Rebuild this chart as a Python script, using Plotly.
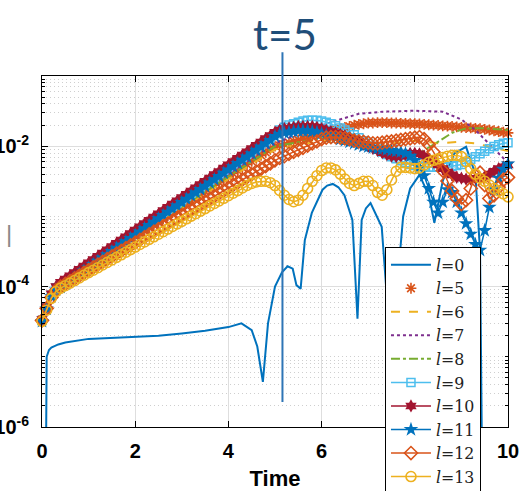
import plotly.graph_objects as go

# ---------------- data ----------------
T = [0.0, 0.1, 0.2, 0.3, 0.4, 0.5, 0.6, 0.7, 0.8, 0.9,
     1.0, 1.1, 1.2, 1.3, 1.4, 1.5, 1.6, 1.7, 1.8, 1.9,
     2.0, 2.1, 2.2, 2.3, 2.4, 2.5, 2.6, 2.7, 2.8, 2.9,
     3.0, 3.1, 3.2, 3.3, 3.4, 3.5, 3.6, 3.7, 3.8, 3.9,
     4.0, 4.1, 4.2, 4.3, 4.4, 4.5, 4.6, 4.7, 4.8, 4.9,
     5.0, 5.1, 5.2, 5.3, 5.4, 5.5, 5.6, 5.7, 5.8, 5.9,
     6.0, 6.1, 6.2, 6.3, 6.4, 6.5, 6.6, 6.7, 6.8, 6.9,
     7.0, 7.1, 7.2, 7.3, 7.4, 7.5, 7.6, 7.7, 7.8, 7.9,
     8.0, 8.1, 8.2, 8.3, 8.4, 8.5, 8.6, 8.7, 8.8, 8.9,
     9.0, 9.1, 9.2, 9.3, 9.4, 9.5, 9.6, 9.7, 9.8, 9.9, 10.0]

L5 = [3.4e-5, 5.0e-5, 7.3e-5, 9.2e-5, 1.05e-4, 1.16e-4, 1.28e-4, 1.41e-4, 1.56e-4, 1.72e-4,
      1.90e-4, 2.10e-4, 2.32e-4, 2.56e-4, 2.82e-4, 3.12e-4, 3.44e-4, 3.80e-4, 4.19e-4, 4.63e-4,
      5.11e-4, 5.64e-4, 6.23e-4, 6.88e-4, 7.59e-4, 8.38e-4, 9.25e-4, 1.02e-3, 1.13e-3, 1.24e-3,
      1.37e-3, 1.52e-3, 1.67e-3, 1.85e-3, 2.04e-3, 2.25e-3, 2.49e-3, 2.75e-3, 3.03e-3, 3.35e-3,
      3.70e-3, 4.08e-3, 4.50e-3, 4.97e-3, 5.49e-3, 6.06e-3, 6.69e-3, 7.39e-3, 8.16e-3, 9.01e-3,
      1.00e-2, 1.02e-2, 1.07e-2, 1.12e-2, 1.17e-2, 1.23e-2, 1.29e-2, 1.35e-2, 1.41e-2, 1.48e-2,
      1.55e-2, 1.62e-2, 1.70e-2, 1.74e-2, 1.78e-2, 1.86e-2, 1.91e-2, 2.00e-2, 2.04e-2, 2.09e-2,
      2.14e-2, 2.14e-2, 2.16e-2, 2.16e-2, 2.16e-2, 2.14e-2, 2.14e-2, 2.12e-2, 2.12e-2, 2.09e-2,
      2.09e-2, 2.07e-2, 2.04e-2, 2.02e-2, 2.00e-2, 1.98e-2, 1.95e-2, 1.93e-2, 1.91e-2, 1.89e-2,
      1.86e-2, 1.84e-2, 1.82e-2, 1.80e-2, 1.78e-2, 1.74e-2, 1.70e-2, 1.66e-2, 1.62e-2, 1.58e-2, 1.55e-2]

L9 = [3.3e-5, 5.0e-5, 7.6e-5, 9.6e-5, 1.07e-4, 1.19e-4, 1.32e-4, 1.47e-4, 1.64e-4, 1.82e-4,
      2.03e-4, 2.26e-4, 2.51e-4, 2.80e-4, 3.12e-4, 3.47e-4, 3.86e-4, 4.30e-4, 4.78e-4, 5.32e-4,
      5.92e-4, 6.59e-4, 7.34e-4, 8.17e-4, 9.09e-4, 1.01e-3, 1.13e-3, 1.26e-3, 1.40e-3, 1.55e-3,
      1.73e-3, 1.93e-3, 2.14e-3, 2.38e-3, 2.65e-3, 2.95e-3, 3.28e-3, 3.65e-3, 4.06e-3, 4.53e-3,
      5.04e-3, 5.61e-3, 6.24e-3, 6.95e-3, 7.73e-3, 8.60e-3, 9.58e-3, 1.07e-2, 1.19e-2, 1.32e-2,
      1.51e-2, 1.70e-2, 1.86e-2, 2.00e-2, 2.09e-2, 2.19e-2, 2.29e-2, 2.34e-2, 2.34e-2, 2.34e-2,
      2.29e-2, 2.19e-2, 2.09e-2, 1.95e-2, 1.82e-2, 1.70e-2, 1.58e-2, 1.45e-2, 1.32e-2, 1.20e-2,
      1.10e-2, 1.00e-2, 9.1e-3, 8.3e-3, 7.6e-3, 7.1e-3, 6.6e-3, 6.2e-3, 5.8e-3, 5.5e-3,
      5.3e-3, 5.2e-3, 5.1e-3, 5.0e-3, 5.0e-3, 5.0e-3, 5.0e-3, 5.1e-3, 5.2e-3, 5.3e-3,
      5.5e-3, 5.9e-3, 6.5e-3, 7.1e-3, 7.8e-3, 8.5e-3, 9.2e-3, 9.9e-3, 1.05e-2, 1.10e-2, 1.12e-2]

L10 = [3.4e-5, 5.2e-5, 7.9e-5, 1.0e-4, 1.15e-4, 1.28e-4, 1.42e-4, 1.58e-4, 1.76e-4, 1.96e-4,
       2.18e-4, 2.43e-4, 2.70e-4, 3.01e-4, 3.35e-4, 3.73e-4, 4.15e-4, 4.62e-4, 5.14e-4, 5.72e-4,
       6.37e-4, 7.09e-4, 7.89e-4, 8.78e-4, 9.77e-4, 1.09e-3, 1.21e-3, 1.35e-3, 1.50e-3, 1.67e-3,
       1.86e-3, 2.07e-3, 2.30e-3, 2.56e-3, 2.85e-3, 3.17e-3, 3.53e-3, 3.93e-3, 4.37e-3, 4.87e-3,
       5.42e-3, 6.03e-3, 6.71e-3, 7.47e-3, 8.31e-3, 9.25e-3, 1.03e-2, 1.15e-2, 1.28e-2, 1.42e-2,
       1.58e-2, 1.70e-2, 1.78e-2, 1.82e-2, 1.86e-2, 1.91e-2, 1.91e-2, 1.91e-2, 1.91e-2, 1.86e-2,
       1.78e-2, 1.70e-2, 1.62e-2, 1.55e-2, 1.48e-2, 1.41e-2, 1.32e-2, 1.23e-2, 1.15e-2, 1.07e-2,
       1.00e-2, 9.3e-3, 8.7e-3, 8.1e-3, 7.6e-3, 7.2e-3, 7.1e-3, 7.2e-3, 7.6e-3, 7.9e-3,
       7.9e-3, 7.8e-3, 7.2e-3, 6.6e-3, 6.0e-3, 5.4e-3, 4.8e-3, 4.3e-3, 3.9e-3, 3.6e-3,
       3.5e-3, 3.4e-3, 3.4e-3, 3.5e-3, 3.5e-3, 3.7e-3, 4.0e-3, 4.4e-3, 4.8e-3, 5.1e-3, 5.4e-3]

L11 = [3.2e-5, 4.8e-5, 7.2e-5, 9.0e-5, 9.8e-5, 1.09e-4, 1.21e-4, 1.34e-4, 1.50e-4, 1.67e-4,
       1.85e-4, 2.07e-4, 2.30e-4, 2.56e-4, 2.85e-4, 3.17e-4, 3.53e-4, 3.93e-4, 4.37e-4, 4.86e-4,
       5.41e-4, 6.03e-4, 6.71e-4, 7.46e-4, 8.30e-4, 9.27e-4, 1.03e-3, 1.15e-3, 1.28e-3, 1.42e-3,
       1.58e-3, 1.76e-3, 1.96e-3, 2.18e-3, 2.42e-3, 2.69e-3, 3.00e-3, 3.34e-3, 3.71e-3, 4.14e-3,
       4.61e-3, 5.13e-3, 5.70e-3, 6.35e-3, 7.06e-3, 7.86e-3, 8.76e-3, 9.78e-3, 1.09e-2, 1.21e-2,
       1.38e-2, 1.48e-2, 1.55e-2, 1.58e-2, 1.62e-2, 1.66e-2, 1.66e-2, 1.66e-2, 1.62e-2, 1.58e-2,
       1.51e-2, 1.45e-2, 1.38e-2, 1.32e-2, 1.26e-2, 1.20e-2, 1.15e-2, 1.10e-2, 1.05e-2, 1.00e-2,
       9.8e-3, 9.5e-3, 9.3e-3, 9.1e-3, 8.9e-3, 8.7e-3, 8.5e-3, 8.3e-3, 7.9e-3, 7.2e-3,
       6.3e-3, 5.0e-3, 3.8e-3, 2.5e-3, 1.6e-3, 1.12e-3, 1.6e-3, 2.4e-3, 2.2e-3, 1.6e-3,
       1.12e-3, 7.9e-4, 5.6e-4, 4.0e-4, 3.3e-4, 6.3e-4, 1.35e-3, 2.4e-3, 3.5e-3, 4.7e-3, 5.6e-3]

L12 = [3.3e-5, 4.9e-5, 7.0e-5, 8.8e-5, 1.00e-4, 1.09e-4, 1.20e-4, 1.31e-4, 1.43e-4, 1.57e-4,
       1.72e-4, 1.88e-4, 2.06e-4, 2.25e-4, 2.46e-4, 2.69e-4, 2.95e-4, 3.22e-4, 3.53e-4, 3.86e-4,
       4.22e-4, 4.62e-4, 5.05e-4, 5.53e-4, 6.05e-4, 6.61e-4, 7.24e-4, 7.92e-4, 8.66e-4, 9.47e-4,
       1.04e-3, 1.13e-3, 1.24e-3, 1.36e-3, 1.48e-3, 1.62e-3, 1.78e-3, 1.94e-3, 2.12e-3, 2.32e-3,
       2.54e-3, 2.78e-3, 3.04e-3, 3.33e-3, 3.64e-3, 3.98e-3, 4.36e-3, 4.77e-3, 5.21e-3, 5.70e-3,
       6.3e-3, 6.8e-3, 7.2e-3, 7.8e-3, 8.3e-3, 8.9e-3, 9.5e-3, 1.02e-2, 1.10e-2, 1.17e-2,
       1.26e-2, 1.32e-2, 1.35e-2, 1.35e-2, 1.32e-2, 1.29e-2, 1.26e-2, 1.20e-2, 1.17e-2, 1.15e-2,
       1.12e-2, 1.10e-2, 1.10e-2, 1.12e-2, 1.15e-2, 1.17e-2, 1.20e-2, 1.23e-2, 1.26e-2, 1.29e-2,
       1.32e-2, 1.35e-2, 1.26e-2, 1.05e-2, 8.3e-3, 6.3e-3, 4.5e-3, 3.2e-3, 2.3e-3, 1.8e-3,
       1.5e-3, 1.7e-3, 2.5e-3, 3.8e-3, 4.2e-3, 2.8e-3, 1.8e-3, 2.0e-3, 2.6e-3, 3.3e-3, 3.6e-3]

L13 = [3.2e-5, 4.6e-5, 6.8e-5, 8.5e-5, 9.5e-5, 1.03e-4, 1.12e-4, 1.22e-4, 1.33e-4, 1.45e-4,
       1.58e-4, 1.71e-4, 1.86e-4, 2.03e-4, 2.21e-4, 2.40e-4, 2.61e-4, 2.84e-4, 3.09e-4, 3.36e-4,
       3.66e-4, 3.98e-4, 4.33e-4, 4.71e-4, 5.12e-4, 5.57e-4, 6.06e-4, 6.60e-4, 7.18e-4, 7.81e-4,
       8.50e-4, 9.24e-4, 1.01e-3, 1.09e-3, 1.19e-3, 1.29e-3, 1.41e-3, 1.53e-3, 1.66e-3, 1.81e-3,
       1.97e-3, 2.14e-3, 2.33e-3, 2.54e-3, 2.76e-3, 2.95e-3, 3.09e-3, 3.16e-3, 3.16e-3, 3.02e-3,
       2.75e-3, 2.34e-3, 2.0e-3, 1.74e-3, 1.62e-3, 1.70e-3, 2.0e-3, 2.5e-3, 3.16e-3, 3.8e-3,
       4.5e-3, 4.9e-3, 4.9e-3, 4.6e-3, 4.0e-3, 3.4e-3, 2.95e-3, 2.75e-3, 2.95e-3, 3.16e-3,
       3.16e-3, 2.75e-3, 2.2e-3, 2.0e-3, 2.4e-3, 3.3e-3, 4.4e-3, 5.0e-3, 5.0e-3, 4.9e-3,
       4.8e-3, 4.9e-3, 5.4e-3, 5.9e-3, 6.3e-3, 6.6e-3, 6.9e-3, 7.2e-3, 7.4e-3, 7.4e-3,
       7.1e-3, 6.0e-3, 4.8e-3, 4.0e-3, 3.5e-3, 3.16e-3, 2.8e-3, 2.5e-3, 2.3e-3, 2.1e-3, 1.9e-3]

# line-only series (sampled where their shape is visible)
T0 = [0.08, 0.1, 0.15, 0.2, 0.35, 0.5, 1.0, 1.5, 2.0, 2.5, 3.0, 3.5, 4.0, 4.28, 4.5, 4.62,
      4.74, 4.85, 5.0, 5.15, 5.27, 5.38, 5.46, 5.55, 5.64, 5.79, 6.02, 6.12, 6.24, 6.36, 6.49,
      6.66, 6.77, 6.86, 6.95, 7.05, 7.29, 7.39, 7.5, 7.62, 7.75, 7.9, 8.1, 8.3, 8.42, 8.6,
      8.85, 9.1, 9.3, 9.4, 9.45]
L0 = [1e-7, 1.0e-5, 1.25e-5, 1.35e-5, 1.5e-5, 1.6e-5, 1.8e-5, 1.87e-5, 1.92e-5, 2.0e-5, 2.15e-5,
      2.35e-5, 2.65e-5, 3.0e-5, 2.4e-5, 1.4e-5, 4.4e-6, 3.0e-5, 1.0e-4, 1.6e-4, 1.95e-4, 1.8e-4,
      1.05e-4, 9.3e-5, 4.6e-4, 1.12e-3, 2.4e-3, 2.75e-3, 2.9e-3, 2.6e-3, 2.0e-3, 8.9e-4, 3.5e-5,
      8.9e-4, 1.3e-3, 1.55e-3, 7.1e-4, 8.9e-5, 3e-6, 1e-4, 1e-3, 2.5e-3, 3.9e-3, 2.0e-3, 8.1e-4,
      3.2e-3, 7.9e-3, 9.8e-3, 4.0e-3, 3.2e-4, 1e-7]

T6 = [0.0, 0.1, 0.2, 0.3, 0.4, 5.0, 6.0, 7.0, 8.0, 8.5, 8.9, 9.3, 9.6, 10.0]
L6 = [3.3e-5, 5.0e-5, 7.3e-5, 9.1e-5, 1.03e-4, 9.0e-3, 1.2e-2, 1.0e-2, 1.2e-2, 1.1e-2, 1.15e-2,
      1.1e-2, 9.8e-3, 8.5e-3]

T7 = [0.0, 0.1, 0.2, 0.3, 0.4, 5.0, 5.8, 6.3, 6.8, 7.3, 8.0, 8.6, 9.0, 9.3, 9.66, 10.0]
L7 = [3.3e-5, 5.0e-5, 7.3e-5, 9.1e-5, 1.04e-4, 1.1e-2, 1.8e-2, 2.3e-2, 2.9e-2, 3.1e-2, 3.2e-2,
      3.1e-2, 2.4e-2, 1.7e-2, 9.8e-3, 5.8e-3]

T8 = [0.0, 0.1, 0.2, 0.3, 0.4, 5.0, 6.0, 7.0, 7.8, 8.1, 8.4, 8.8, 9.1, 9.5, 10.0]
L8 = [3.3e-5, 5.0e-5, 7.3e-5, 9.1e-5, 1.04e-4, 1.0e-2, 1.3e-2, 1.0e-2, 8.5e-3, 8.0e-3, 1.05e-2,
      1.55e-2, 1.8e-2, 1.8e-2, 1.7e-2]

NAMES = ["<i>l</i>=0", "<i>l</i>=5", "<i>l</i>=6", "<i>l</i>=7", "<i>l</i>=8",
         "<i>l</i>=9", "<i>l</i>=10", "<i>l</i>=11", "<i>l</i>=12", "<i>l</i>=13"]
X_TICKS = [0, 2, 4, 6, 8, 10]
Y_TICKVALS = [1e-6, 1e-4, 1e-2]
Y_TICKTEXT = ["10<sup>-6</sup>", "10<sup>-4</sup>", "10<sup>-2</sup>"]
MARK_T = 5.16          # position of the "t=5" marker line
MARK_LABEL = "t=5"
X_TITLE = "Time"

# ---------------- styles ----------------
BLUE, ORANGE, YELLOW = "#0072BD", "#D95319", "#EDB120"
PURPLE, GREEN, CYAN, RED = "#7E2F8E", "#77AC30", "#4DBEEE", "#A2142F"

fig = go.Figure()

fig.add_trace(go.Scatter(x=T0, y=L0, name=NAMES[0], mode="lines",
                         line=dict(color=BLUE, width=2)))
fig.add_trace(go.Scatter(x=T, y=L5, name=NAMES[1], mode="markers", cliponaxis=False,
                         marker=dict(symbol="asterisk-open", size=9, color=ORANGE,
                                     line=dict(color=ORANGE, width=1.6))))
fig.add_trace(go.Scatter(x=T6, y=L6, name=NAMES[2], mode="lines",
                         line=dict(color=YELLOW, width=2, dash="dash")))
fig.add_trace(go.Scatter(x=T7, y=L7, name=NAMES[3], mode="lines",
                         line=dict(color=PURPLE, width=2, dash="dot")))
fig.add_trace(go.Scatter(x=T8, y=L8, name=NAMES[4], mode="lines",
                         line=dict(color=GREEN, width=2, dash="dashdot")))
fig.add_trace(go.Scatter(x=T, y=L9, name=NAMES[5], mode="lines+markers", cliponaxis=False,
                         line=dict(color=CYAN, width=1.5),
                         marker=dict(symbol="square-open", size=8, color=CYAN,
                                     line=dict(color=CYAN, width=1.5))))
fig.add_trace(go.Scatter(x=T, y=L10, name=NAMES[6], mode="lines+markers", cliponaxis=False,
                         line=dict(color=RED, width=1.5),
                         marker=dict(symbol="hexagram", size=10, color=RED)))
fig.add_trace(go.Scatter(x=T, y=L11, name=NAMES[7], mode="lines+markers", cliponaxis=False,
                         line=dict(color=BLUE, width=1.5),
                         marker=dict(symbol="star", size=11, color=BLUE)))
fig.add_trace(go.Scatter(x=T, y=L12, name=NAMES[8], mode="lines+markers", cliponaxis=False,
                         line=dict(color=ORANGE, width=1.5),
                         marker=dict(symbol="diamond-open", size=10, color=ORANGE,
                                     line=dict(color=ORANGE, width=1.6))))
fig.add_trace(go.Scatter(x=T, y=L13, name=NAMES[9], mode="lines+markers", cliponaxis=False,
                         line=dict(color=YELLOW, width=1.5),
                         marker=dict(symbol="circle-open", size=10, color=YELLOW,
                                     line=dict(color=YELLOW, width=1.6))))

TICKFONT = dict(family="Liberation Sans", size=20, color="black", weight="bold")
GRID = "#dedede"

fig.update_layout(
    width=528, height=491,
    margin=dict(l=42, r=20, t=76, b=64, autoexpand=False),
    paper_bgcolor="white", plot_bgcolor="white",
    font=dict(family="Liberation Sans", color="black"),
    showlegend=True,
    legend=dict(x=0.736, y=0.513, xanchor="left", yanchor="top",
                bgcolor="white", bordercolor="black", borderwidth=1,
                font=dict(family="DejaVu Serif", size=15.8, color="#222222"),
                itemwidth=40, tracegroupgap=0),
    xaxis=dict(range=[0, 10], tickvals=X_TICKS, ticks="inside", ticklen=6,
               tickcolor="black", showline=True, linecolor="black", linewidth=1,
               mirror="ticks", showgrid=True, gridcolor=GRID, gridwidth=1,
               zeroline=False, tickfont=TICKFONT, automargin=False,
               ticklabelstandoff=6,
               title=dict(text=X_TITLE, font=dict(family="Liberation Sans", size=22,
                                                  color="black", weight="bold"),
                          standoff=9)),
    yaxis=dict(type="log", range=[-6, -1], tickmode="array", tickvals=Y_TICKVALS,
               ticktext=Y_TICKTEXT, ticks="inside", ticklen=6, tickcolor="black",
               showline=True, linecolor="black", linewidth=1, mirror="ticks",
               showgrid=True, gridcolor=GRID, gridwidth=1, zeroline=False,
               tickfont=TICKFONT, automargin=False, ticklabelstandoff=8,
               minor=dict(dtick="D1", ticks="inside", ticklen=3, tickcolor="black",
                          showgrid=True, gridcolor="#cfcfcf", gridwidth=1,
                          griddash="1px,3px")),
)

# cropped remnant of the y-axis label
fig.add_annotation(text="|", xref="paper", yref="paper", x=-0.082, y=0.55,
                   showarrow=False, font=dict(family="Liberation Sans", size=24,
                                              color="#8a8a8a"))

# t=5 marker
fig.add_shape(type="line", xref="x", yref="paper", x0=MARK_T, x1=MARK_T,
              y0=0.071, y1=1.068, line=dict(color="#2E75B6", width=2))
fig.add_annotation(text=MARK_LABEL, xref="x", yref="paper", x=MARK_T + 0.05, y=1.12,
                   yanchor="middle", showarrow=False,
                   font=dict(family="Lato", size=42, color="#1F4E79"))

fig.write_html("out.html")
